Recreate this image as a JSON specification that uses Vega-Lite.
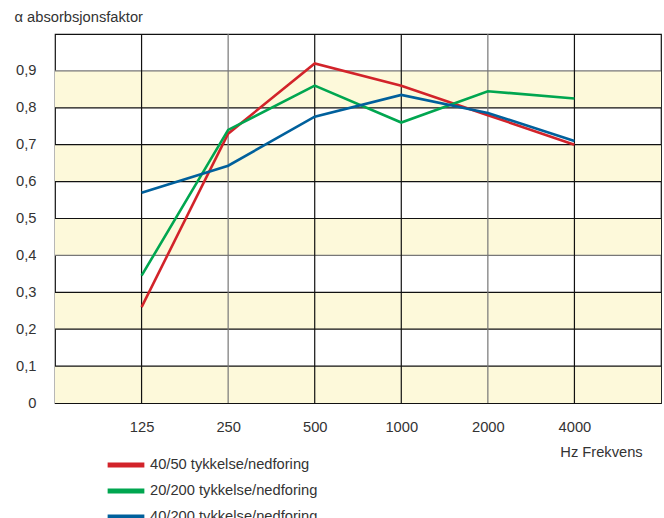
{
  "$schema": "https://vega.github.io/schema/vega-lite/v6.json",
  "width": 606,
  "height": 369,
  "autosize": "none",
  "padding": {"left": 55, "top": 34, "right": 3, "bottom": 115},
  "background": "white",
  "config": {
    "view": {"stroke": "#111", "strokeWidth": 1.2},
    "font": "Liberation Sans",
    "axis": {"labelFont": "Liberation Sans", "titleFont": "Liberation Sans", "labelColor": "#333", "titleColor": "#333", "labelFontSize": 14.7, "titleFontSize": 14.7, "titleFontWeight": "normal"}
  },
  "datasets": {
    "series": [
      {"freq": 125, "alpha": 0.26, "serie": "40/50 tykkelse/nedforing"},
      {"freq": 250, "alpha": 0.73, "serie": "40/50 tykkelse/nedforing"},
      {"freq": 500, "alpha": 0.92, "serie": "40/50 tykkelse/nedforing"},
      {"freq": 1000, "alpha": 0.86, "serie": "40/50 tykkelse/nedforing"},
      {"freq": 2000, "alpha": 0.78, "serie": "40/50 tykkelse/nedforing"},
      {"freq": 4000, "alpha": 0.70, "serie": "40/50 tykkelse/nedforing"},
      {"freq": 125, "alpha": 0.345, "serie": "20/200 tykkelse/nedforing"},
      {"freq": 250, "alpha": 0.74, "serie": "20/200 tykkelse/nedforing"},
      {"freq": 500, "alpha": 0.86, "serie": "20/200 tykkelse/nedforing"},
      {"freq": 1000, "alpha": 0.76, "serie": "20/200 tykkelse/nedforing"},
      {"freq": 2000, "alpha": 0.845, "serie": "20/200 tykkelse/nedforing"},
      {"freq": 4000, "alpha": 0.825, "serie": "20/200 tykkelse/nedforing"},
      {"freq": 125, "alpha": 0.57, "serie": "40/200 tykkelse/nedforing"},
      {"freq": 250, "alpha": 0.643, "serie": "40/200 tykkelse/nedforing"},
      {"freq": 500, "alpha": 0.776, "serie": "40/200 tykkelse/nedforing"},
      {"freq": 1000, "alpha": 0.835, "serie": "40/200 tykkelse/nedforing"},
      {"freq": 2000, "alpha": 0.786, "serie": "40/200 tykkelse/nedforing"},
      {"freq": 4000, "alpha": 0.71, "serie": "40/200 tykkelse/nedforing"}
    ],
    "bands": [
      {"lo": 0.0, "hi": 0.1},
      {"lo": 0.2, "hi": 0.3},
      {"lo": 0.4, "hi": 0.5},
      {"lo": 0.6, "hi": 0.7},
      {"lo": 0.8, "hi": 0.9}
    ],
    "hgrid": [
      {"v": 0.1, "g": 0}, {"v": 0.2, "g": 0}, {"v": 0.3, "g": 0}, {"v": 0.4, "g": 1}, {"v": 0.5, "g": 0},
      {"v": 0.6, "g": 0}, {"v": 0.7, "g": 0}, {"v": 0.8, "g": 0}, {"v": 0.9, "g": 1}
    ],
    "vgrid": [
      {"f": 125, "g": 0}, {"f": 250, "g": 1}, {"f": 500, "g": 0}, {"f": 1000, "g": 0}, {"f": 2000, "g": 1}, {"f": 4000, "g": 0}
    ]
  },
  "layer": [
    {
      "data": {"name": "bands"},
      "mark": {"type": "rect", "color": "#FDF9DA"},
      "encoding": {
        "y": {"field": "lo", "type": "quantitative", "scale": {"domain": [0, 1]}, "axis": {
          "values": [0, 0.1, 0.2, 0.3, 0.4, 0.5, 0.6, 0.7, 0.8, 0.9],
          "labelExpr": "datum.value == 0 ? '0' : replace(format(datum.value, '.1f'), '.', ',')",
          "grid": false, "ticks": false, "domain": false, "labelPadding": 19,
          "title": "α absorbsjonsfaktor", "titleAngle": 0, "titleX": -41, "titleY": -17,
          "titleAlign": "left", "titleBaseline": "middle"
        }},
        "y2": {"field": "hi"}
      }
    },
    {
      "data": {"name": "hgrid"},
      "mark": {"type": "rule", "strokeWidth": 1.2},
      "encoding": {
        "y": {"field": "v", "type": "quantitative"},
        "color": {"condition": {"test": "datum.g == 1", "value": "#777"}, "value": "#111"}
      }
    },
    {
      "data": {"name": "vgrid"},
      "mark": {"type": "rule", "strokeWidth": 1.2},
      "encoding": {
        "x": {"field": "f", "type": "ordinal"},
        "color": {"condition": {"test": "datum.g == 1", "value": "#777"}, "value": "#111"}
      }
    },
    {
      "data": {"name": "series"},
      "mark": {"type": "line", "strokeWidth": 2.6},
      "encoding": {
        "x": {"field": "freq", "type": "ordinal",
          "scale": {"type": "point", "padding": 1, "domain": [125, 250, 500, 1000, 2000, 4000]},
          "axis": {"labelAngle": 0, "labelAlign": "center", "labelBaseline": "middle", "ticks": false, "domain": false, "grid": false, "labelPadding": 24,
            "title": "Hz Frekvens", "titleX": 546, "titleY": 49, "titleAlign": "center", "titleBaseline": "middle"}},
        "y": {"field": "alpha", "type": "quantitative"},
        "color": {"field": "serie", "type": "nominal",
          "scale": {"domain": ["40/50 tykkelse/nedforing", "20/200 tykkelse/nedforing", "40/200 tykkelse/nedforing"],
            "range": ["#D2232A", "#00A650", "#00609C"]},
          "legend": {"title": null, "orient": "none", "legendX": 56, "legendY": 416, "padding": 0,
            "symbolType": "M-1.5,0H1.5", "symbolSize": 600, "symbolStrokeWidth": 5,
            "labelFont": "Liberation Sans", "labelFontSize": 14.7, "labelColor": "#333", "labelOffset": 9, "rowPadding": 1, "labelLimit": 400}
        }
      }
    }
  ]
}
